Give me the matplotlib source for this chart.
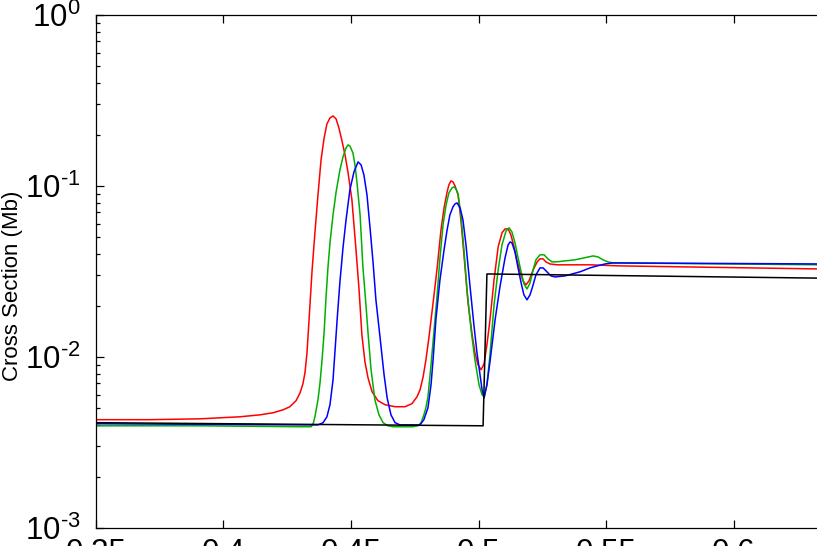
import matplotlib
matplotlib.use('Agg')
import matplotlib.pyplot as plt
from matplotlib.ticker import LogLocator, FixedLocator, FuncFormatter
import numpy as np

plt.rcParams['font.family'] = ['Liberation Sans', 'DejaVu Sans']
plt.rcParams['mathtext.fontset'] = 'custom'
plt.rcParams['mathtext.rm'] = 'Liberation Sans'
plt.rcParams['mathtext.default'] = 'regular'

# energy (x) and cross section in Mb (y)
red_x = [0.3501, 0.3713, 0.3909, 0.4065, 0.4144, 0.4195, 0.4234, 0.4261, 0.4285, 0.4301,
         0.4312, 0.4320, 0.4328, 0.4336, 0.4348, 0.4359, 0.4371, 0.4383, 0.4395, 0.4406,
         0.4418, 0.4430, 0.4442, 0.4453, 0.4465, 0.4477, 0.4489, 0.4504, 0.4520, 0.4532,
         0.4543, 0.4555, 0.4567, 0.4583, 0.4606, 0.4634, 0.4673, 0.4712, 0.4739, 0.4759,
         0.4771, 0.4783, 0.4794, 0.4806, 0.4822, 0.4838, 0.4853, 0.4865, 0.4877, 0.4884,
         0.4892, 0.4900, 0.4908, 0.4920, 0.4931, 0.4943, 0.4959, 0.4975, 0.4986, 0.4998,
         0.5010, 0.5022, 0.5033, 0.5045, 0.5061, 0.5077, 0.5092, 0.5104, 0.5116, 0.5127,
         0.5139, 0.5151, 0.5163, 0.5174, 0.5186, 0.5198, 0.5214, 0.5230, 0.5241, 0.5253,
         0.5264, 0.5280, 0.5308, 0.5437, 0.5555, 0.6350]
red_y = [0.00430, 0.00430, 0.00435, 0.00447, 0.00459, 0.00472, 0.00491, 0.00512, 0.00555, 0.00618,
         0.00697, 0.00808, 0.0106, 0.0165, 0.0323, 0.0532, 0.0887, 0.1421, 0.1910, 0.2306,
         0.2500, 0.2568, 0.2467, 0.2186, 0.1835, 0.1520, 0.1193, 0.0829, 0.0423, 0.0247,
         0.0135, 0.00938, 0.00756, 0.00626, 0.00555, 0.00526, 0.00512, 0.00512, 0.00533, 0.00585,
         0.00643, 0.00766, 0.00963, 0.0131, 0.0207, 0.0332, 0.0554, 0.0745, 0.0923, 0.1015,
         0.1071, 0.1057, 0.1001, 0.0887, 0.0634, 0.0396, 0.0207, 0.0135, 0.0106, 0.00901,
         0.00842, 0.00913, 0.0118, 0.0165, 0.0283, 0.0441, 0.0532, 0.0561, 0.0561, 0.0518,
         0.0441, 0.0365, 0.0315, 0.0279, 0.0264, 0.0279, 0.0323, 0.0360, 0.0375, 0.0375,
         0.0360, 0.0350, 0.0346, 0.0346, 0.0341, 0.0327]

green_x = [0.3501, 0.3909, 0.4301, 0.4344, 0.4352, 0.4359, 0.4371, 0.4379, 0.4387, 0.4395,
           0.4402, 0.4410, 0.4418, 0.4430, 0.4442, 0.4457, 0.4469, 0.4481, 0.4489, 0.4496,
           0.4508, 0.4516, 0.4524, 0.4536, 0.4547, 0.4559, 0.4567, 0.4579, 0.4594, 0.4610,
           0.4626, 0.4645, 0.4665, 0.4743, 0.4763, 0.4775, 0.4786, 0.4794, 0.4802, 0.4814,
           0.4826, 0.4838, 0.4849, 0.4861, 0.4873, 0.4884, 0.4896, 0.4904, 0.4912, 0.4920,
           0.4931, 0.4943, 0.4955, 0.4971, 0.4986, 0.5002, 0.5014, 0.5022, 0.5033, 0.5045,
           0.5061, 0.5077, 0.5092, 0.5108, 0.5120, 0.5131, 0.5143, 0.5155, 0.5167, 0.5178,
           0.5190, 0.5202, 0.5214, 0.5225, 0.5241, 0.5257, 0.5272, 0.5288, 0.5304, 0.5378,
           0.5449, 0.5468, 0.5488, 0.5507, 0.5527, 0.6350]
green_y = [0.00396, 0.00396, 0.00391, 0.00391, 0.00407, 0.00447, 0.00562, 0.00707, 0.00963, 0.0139,
           0.0216, 0.0332, 0.0465, 0.0678, 0.0923, 0.1242, 0.1479, 0.1670, 0.1739, 0.1715,
           0.1561, 0.1328, 0.1042, 0.0678, 0.0337, 0.0202, 0.0139, 0.00842, 0.00562, 0.00459,
           0.00413, 0.00396, 0.00391, 0.00391, 0.00396, 0.00413, 0.00459, 0.00505, 0.00585, 0.00901,
           0.0144, 0.0231, 0.0380, 0.0593, 0.0775, 0.0912, 0.0975, 0.0988, 0.0961, 0.0899,
           0.0678, 0.0423, 0.0247, 0.0144, 0.00963, 0.00688, 0.00601, 0.00585, 0.00688, 0.0103,
           0.0202, 0.0323, 0.0453, 0.0546, 0.0569, 0.0539, 0.0465, 0.0380, 0.0315, 0.0268,
           0.0250, 0.0271, 0.0323, 0.0370, 0.0396, 0.0396, 0.0375, 0.0360, 0.0360, 0.0370,
           0.0390, 0.0385, 0.0370, 0.0360, 0.0355, 0.0346]

blue_x = [0.3501, 0.4301, 0.4371, 0.4391, 0.4406, 0.4418, 0.4430, 0.4438, 0.4446, 0.4457,
          0.4469, 0.4481, 0.4496, 0.4512, 0.4528, 0.4540, 0.4551, 0.4563, 0.4575, 0.4587,
          0.4598, 0.4614, 0.4630, 0.4642, 0.4657, 0.4673, 0.4692, 0.4771, 0.4786, 0.4802,
          0.4814, 0.4822, 0.4833, 0.4849, 0.4865, 0.4877, 0.4888, 0.4900, 0.4908, 0.4916,
          0.4928, 0.4939, 0.4951, 0.4967, 0.4982, 0.4994, 0.5006, 0.5014, 0.5022, 0.5033,
          0.5045, 0.5065, 0.5084, 0.5104, 0.5116, 0.5124, 0.5131, 0.5143, 0.5155, 0.5167,
          0.5178, 0.5190, 0.5202, 0.5214, 0.5225, 0.5241, 0.5253, 0.5268, 0.5284, 0.5300,
          0.5339, 0.5398, 0.5437, 0.5465, 0.5496, 0.5527, 0.6350]
blue_y = [0.00407, 0.00401, 0.00401, 0.00413, 0.00447, 0.00526, 0.00736, 0.0110, 0.0165, 0.0275,
          0.0435, 0.0634, 0.0949, 0.1209, 0.1383, 0.1328, 0.1161, 0.0887, 0.0569, 0.0355,
          0.0216, 0.0131, 0.00787, 0.00577, 0.00459, 0.00413, 0.00401, 0.00401, 0.00430, 0.00505,
          0.00688, 0.00963, 0.0165, 0.0283, 0.0423, 0.0554, 0.0678, 0.0755, 0.0786, 0.0796,
          0.0745, 0.0634, 0.0453, 0.0257, 0.0154, 0.0106, 0.00787, 0.00643, 0.00577, 0.00688,
          0.00938, 0.0165, 0.0257, 0.0380, 0.0453, 0.0471, 0.0465, 0.0412, 0.0332, 0.0271,
          0.0231, 0.0216, 0.0231, 0.0264, 0.0302, 0.0332, 0.0332, 0.0315, 0.0298, 0.0294,
          0.0298, 0.0315, 0.0332, 0.0341, 0.0350, 0.0355, 0.0350]

black_x = [0.3501, 0.5018, 0.5033, 0.6350]
black_y = [0.00413, 0.00396, 0.0306, 0.0289]

x_ticks = [0.35, 0.4, 0.45, 0.5, 0.55, 0.6, 0.65]
x_labels = ['0.35', '0.4', '0.45', '0.5', '0.55', '0.6', '0.65']


def decade_label(v, pos):
    # MATLAB style 10^-n with a short hyphen in the exponent
    n = int(round(np.log10(v)))
    exp = str(n).replace('-', '\u2010')
    return r'$10^{%s}$' % exp


fig = plt.figure(figsize=(8.17, 5.46), dpi=100)
# the axes runs past the right edge of the picture, as in the original crop
ax = fig.add_axes([95.7 / 817, 18 / 546, 0.30 * 2552 / 817, 513 / 546])

ax.plot(red_x, red_y, color='#ff0000', lw=1.1)
ax.plot(green_x, green_y, color='#00b000', lw=1.1)
ax.plot(blue_x, blue_y, color='#0000ff', lw=1.1)
ax.plot(black_x, black_y, color='black', lw=1.1)

ax.set_yscale('log')
ax.set_xlim(0.35, 0.65)
ax.set_ylim(1e-3, 1)
ax.xaxis.set_major_locator(FixedLocator(x_ticks))
ax.set_xticklabels(x_labels)
ax.yaxis.set_major_locator(LogLocator(base=10, numticks=10))
ax.yaxis.set_minor_locator(LogLocator(base=10, subs=np.arange(2, 10), numticks=10))
ax.yaxis.set_major_formatter(FuncFormatter(decade_label))
ax.yaxis.set_minor_formatter(FuncFormatter(lambda v, p: ''))

ax.tick_params(which='both', direction='in', top=True, right=True, labelsize=22.5,
               width=0.9, color='black')
ax.tick_params(which='major', length=6)
ax.tick_params(axis='y', which='major', pad=11)
ax.tick_params(axis='x', which='major', pad=7)
ax.tick_params(which='minor', length=3)
for s in ax.spines.values():
    s.set_linewidth(0.9)

ax.set_ylabel('Cross Section (Mb)', fontsize=16)
ax.yaxis.set_label_coords(-0.095, 0.472)

fig.savefig('out.png', dpi=100)
